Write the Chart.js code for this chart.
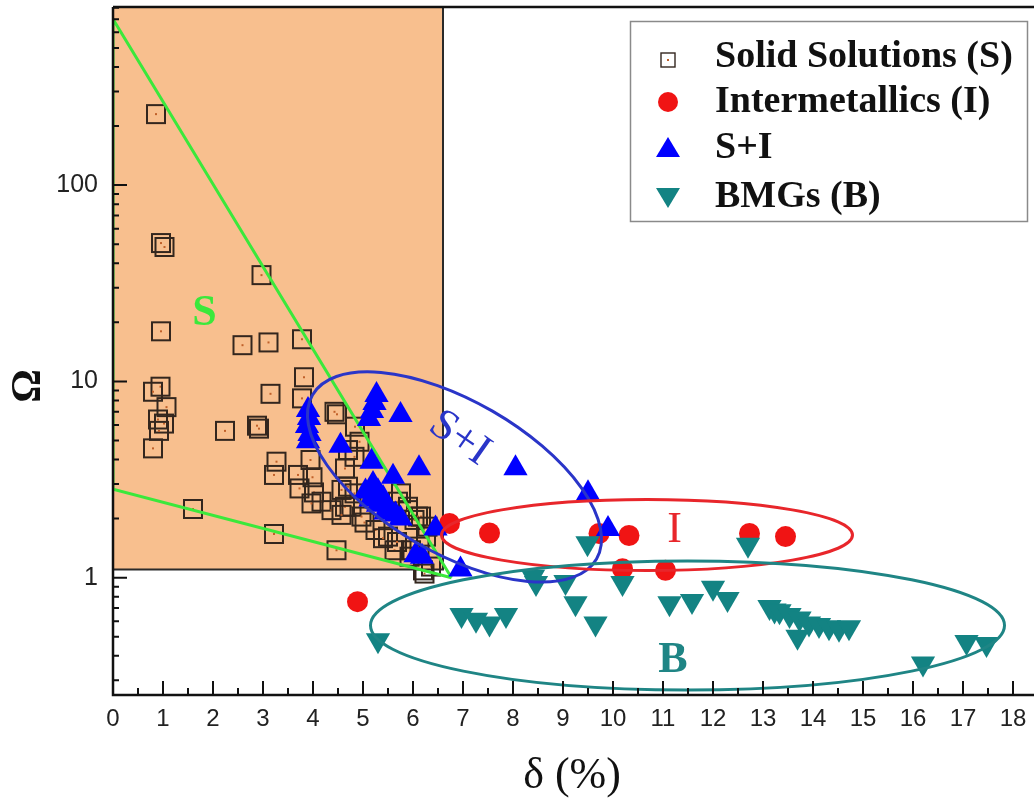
<!DOCTYPE html>
<html><head><meta charset="utf-8">
<script src="https://cdn.jsdelivr.net/npm/chart.js@4.4.0/dist/chart.umd.min.js"></script>
<style>html,body{margin:0;padding:0;background:#fff;}canvas{display:block;}</style>
</head><body>
<canvas id="c" width="1034" height="800"></canvas>
<script>
// ---------- data ----------
const xTickValues = [0,1,2,3,4,5,6,7,8,9,10,11,12,13,14,15,16,17,18];
const yTickValues = [1,10,100];
const yTickLabels = ['1','10','100'];
const seriesLabels = ['Solid Solutions (S)','Intermetallics (I)','S+I','BMGs (B)'];

const solidDelta = [0.86,0.96,1.03,2.97,0.96,2.59,3.11,3.78,3.82,3.78,0.95,0.80,1.07,0.90,1.02,0.92,0.80,2.24,2.88,2.92,3.15,4.43,4.48,4.84,4.93,4.83,4.70,3.95,3.27,3.22,3.70,3.99,3.73,4.02,4.64,4.57,4.83,4.70,4.64,4.77,4.17,3.97,4.37,4.57,4.97,5.03,5.25,5.40,5.50,5.63,5.68,5.76,5.70,5.90,5.90,6.10,6.16,6.03,6.29,6.26,6.13,5.93,5.96,6.36,6.23,6.20,1.60,3.22,4.47];
const solidOmega = [230,50.7,48.4,34.8,18.0,15.3,15.8,16.4,10.5,8.2,9.4,8.86,7.4,6.4,6.1,5.6,4.56,5.6,5.95,5.75,8.65,7.0,6.8,5.88,4.93,4.13,4.47,3.98,3.9,3.34,3.34,3.25,2.85,2.72,3.6,2.8,2.69,2.91,2.3,2.3,2.44,2.39,2.21,2.09,2.05,1.91,1.75,1.59,1.62,1.38,1.52,2.69,2.44,2.3,2.21,2.05,2.05,1.97,1.82,1.62,1.44,1.28,1.38,1.14,1.05,1.09,2.24,1.67,1.38];

const interDelta = [4.89,6.73,7.53,9.72,10.32,10.19,11.05,12.73,13.45];
const interOmega = [0.755,1.89,1.69,1.68,1.64,1.11,1.09,1.68,1.62];

const siDelta = [3.90,3.92,3.88,3.93,3.90,5.27,5.23,5.18,5.12,5.75,4.55,5.17,6.12,5.60,8.05,5.20,5.05,5.30,5.15,5.40,5.30,5.50,5.45,5.65,5.75,9.50,9.90,6.45,6.05,6.18,6.95];
const siOmega = [7.15,6.51,5.93,5.40,4.95,8.53,7.76,7.06,6.43,6.74,4.70,3.90,3.61,3.27,3.61,3.00,2.75,2.75,2.50,2.55,2.35,2.30,2.15,2.10,2.00,2.69,1.77,1.78,1.30,1.28,1.10];

const bmgDelta = [5.30,6.97,7.26,7.53,7.86,8.40,8.46,9.05,9.25,9.65,9.49,10.19,11.13,11.58,12.00,12.29,12.70,13.13,13.23,13.33,13.53,13.73,13.92,14.12,14.32,14.52,14.72,13.69,16.20,17.07,17.47];
const bmgOmega = [0.48,0.646,0.61,0.585,0.646,1.01,0.94,0.95,0.74,0.585,1.50,0.94,0.74,0.76,0.89,0.78,1.47,0.71,0.68,0.675,0.646,0.62,0.585,0.575,0.56,0.55,0.56,0.50,0.366,0.47,0.46];

// S-region boundary (green triangle) and shaded S window
const boundaryDelta = [6.77, 0, 0, 6.77];
const boundaryOmega = [1.0, 700, 2.82, 1.0];
const sWindowDelta = [0, 6.6];
const sWindowOmegaMin = 1.1;

// group ellipses: centre (delta, omega), semi-axes (delta units, decades), tilt (deg)
const ellipseCentreDelta = [6.83, 10.68, 11.49];
const ellipseCentreOmega = [3.26, 1.65, 0.571];
const ellipseRadiusDelta = [3.28, 4.11, 6.34];
const ellipseRadiusDecades = [0.387, 0.181, 0.329];
const ellipseTilt = [30, 0, 0];

// region labels
const regionText = ['S','S+I','I','B'];
const regionDelta = [1.83, 6.93, 11.23, 11.2];
const regionOmega = [22.2, 5.13, 1.75, 0.376];

// ---------- styles ----------
const ORANGE = 'rgb(248,191,142)';
const SQ_COL = '#33261e';
const RED = '#f01414';
const BLUE = '#0000ff';
const TEAL = '#138383';
const GREEN = '#3be83b';
const ellipseColors = ['#2a35c8','#e8262b','#1f8585'];
const regionColors = [GREEN,'#2a35c8','#e8262b','#1f8585'];
const regionFonts = ['bold 44px "Liberation Serif"','44px "Liberation Serif"','44px "Liberation Serif"','bold 44px "Liberation Serif"'];
const regionRot = [0, 35, 0, 0];

function makeSquare(size, lw) {
  const c = document.createElement('canvas');
  c.width = c.height = Math.ceil(size + lw + 2);
  const g = c.getContext('2d');
  const o = (c.width - size) / 2;
  g.strokeStyle = SQ_COL; g.lineWidth = lw;
  g.strokeRect(o, o, size, size);
  g.fillStyle = '#c0602a';
  g.fillRect(c.width/2 - 1, c.height/2 - 1, 2, 2);
  return c;
}
const squareImg = makeSquare(18, 2);
const squareLegendImg = makeSquare(14, 1.4);

const pts = (xs, ys) => xs.map((v, i) => ({x: v, y: ys[i]}));
const zeroPad = s => { s.paddingTop = 0; s.paddingBottom = 0; s.paddingLeft = 0; s.paddingRight = 0; };

const decor = {
  id: 'decor',
  beforeDatasetsDraw(chart) {
    const {ctx, scales: {x, y}, chartArea: a} = chart;
    const x0 = x.getPixelForValue(sWindowDelta[0]), x1 = x.getPixelForValue(sWindowDelta[1]);
    const y1 = y.getPixelForValue(sWindowOmegaMin);
    ctx.save();
    ctx.fillStyle = ORANGE;
    ctx.fillRect(x0, a.top, x1 - x0, y1 - a.top);
    ctx.strokeStyle = '#2a2a2a'; ctx.lineWidth = 2;
    ctx.beginPath(); ctx.moveTo(x1, a.top); ctx.lineTo(x1, y1); ctx.lineTo(x0, y1); ctx.stroke();
    ctx.restore();
  },
  afterDatasetsDraw(chart) {
    const {ctx, scales: {x, y}} = chart;
    ctx.save();
    for (let i = 0; i < ellipseCentreDelta.length; i++) {
      const cx = x.getPixelForValue(ellipseCentreDelta[i]);
      const cy = y.getPixelForValue(ellipseCentreOmega[i]);
      const rx = x.getPixelForValue(ellipseCentreDelta[i] + ellipseRadiusDelta[i]) - cx;
      const ry = cy - y.getPixelForValue(ellipseCentreOmega[i] * Math.pow(10, ellipseRadiusDecades[i]));
      ctx.beginPath();
      ctx.ellipse(cx, cy, rx, ry, ellipseTilt[i] * Math.PI / 180, 0, Math.PI * 2);
      ctx.strokeStyle = ellipseColors[i]; ctx.lineWidth = 3; ctx.stroke();
    }
    for (let i = 0; i < regionText.length; i++) {
      const px = x.getPixelForValue(regionDelta[i]), py = y.getPixelForValue(regionOmega[i]);
      ctx.save();
      ctx.translate(px, py); ctx.rotate(regionRot[i] * Math.PI / 180);
      ctx.font = regionFonts[i]; ctx.fillStyle = regionColors[i];
      ctx.textAlign = 'center'; ctx.textBaseline = 'middle';
      ctx.fillText(regionText[i], 0, 0);
      ctx.restore();
    }
    ctx.restore();
  },
  afterDraw(chart) {
    const {ctx, scales: {x, y}, chartArea: a} = chart;
    ctx.save();
    ctx.strokeStyle = '#111'; ctx.lineWidth = 2.5;
    ctx.beginPath();
    ctx.moveTo(a.left, a.top); ctx.lineTo(a.right, a.top);
    ctx.moveTo(a.left, a.top); ctx.lineTo(a.left, a.bottom); ctx.lineTo(a.right, a.bottom);
    ctx.stroke();
    ctx.lineWidth = 2;
    ctx.beginPath();
    for (let v = 0; v <= 18.4; v += 0.5) {
      const px = x.getPixelForValue(v);
      const len = Number.isInteger(v) ? 14 : 7;
      ctx.moveTo(px, a.bottom); ctx.lineTo(px, a.bottom - len);
    }
    for (let d = -1; d <= 2; d++) {
      for (let k = 1; k <= 9; k++) {
        const v = k * Math.pow(10, d);
        if (v < y.min || v > y.max) continue;
        const py = y.getPixelForValue(v);
        const len = k === 1 ? 14 : 6;
        ctx.moveTo(a.left, py); ctx.lineTo(a.left + len, py);
      }
    }
    ctx.stroke();
    ctx.fillStyle = '#111';
    ctx.textAlign = 'center'; ctx.textBaseline = 'middle';
    ctx.font = '44px "Liberation Serif"';
    ctx.fillText('\u03b4 (%)', 572, 776);
    ctx.save();
    ctx.translate(29, 386); ctx.rotate(-Math.PI / 2);
    ctx.font = 'bold 42px "Liberation Serif"';
    ctx.fillText('\u03a9', 0, 0);
    ctx.restore();
    ctx.fillStyle = '#fff';
    ctx.fillRect(630, 21, 398, 201);
    ctx.strokeStyle = '#8a8a8a'; ctx.lineWidth = 1.5;
    ctx.strokeRect(630.5, 21.5, 397, 200);
    const rows = [57, 102, 148, 197];
    const sx = 668;
    ctx.drawImage(squareLegendImg, sx - squareLegendImg.width / 2, rows[0] + 3 - squareLegendImg.height / 2);
    ctx.fillStyle = RED; ctx.beginPath(); ctx.arc(sx, rows[1], 10, 0, Math.PI * 2); ctx.fill();
    ctx.fillStyle = BLUE; ctx.beginPath();
    ctx.moveTo(sx, rows[2] - 11); ctx.lineTo(sx + 12, rows[2] + 9); ctx.lineTo(sx - 12, rows[2] + 9); ctx.closePath(); ctx.fill();
    ctx.fillStyle = TEAL; ctx.beginPath();
    ctx.moveTo(sx, rows[3] + 11); ctx.lineTo(sx + 12, rows[3] - 9); ctx.lineTo(sx - 12, rows[3] - 9); ctx.closePath(); ctx.fill();
    ctx.fillStyle = '#111';
    ctx.font = 'bold 38px "Liberation Serif"';
    ctx.textAlign = 'left'; ctx.textBaseline = 'middle';
    seriesLabels.forEach((t, i) => ctx.fillText(t, 715, rows[i]));
    ctx.restore();
  }
};

new Chart(document.getElementById('c'), {
  type: 'scatter',
  data: {
    datasets: [
      {label: seriesLabels[0], data: pts(solidDelta, solidOmega), pointStyle: squareImg, order: 5},
      {label: 'boundary', data: pts(boundaryDelta, boundaryOmega), showLine: true, borderColor: GREEN, borderWidth: 3, pointRadius: 0, order: 4},
      {label: seriesLabels[1], data: pts(interDelta, interOmega), pointStyle: 'circle', pointRadius: 10.5, backgroundColor: RED, borderColor: RED, borderWidth: 0, order: 3},
      {label: seriesLabels[3], data: pts(bmgDelta, bmgOmega), pointStyle: 'triangle', rotation: 180, pointRadius: 14, backgroundColor: TEAL, borderColor: TEAL, borderWidth: 0, order: 2},
      {label: seriesLabels[2], data: pts(siDelta, siOmega), pointStyle: 'triangle', pointRadius: 14, backgroundColor: BLUE, borderColor: BLUE, borderWidth: 0, order: 1}
    ]
  },
  options: {
    responsive: false, animation: false, events: [],
    layout: {padding: {top: 7, right: 0, bottom: 0, left: 0}, autoPadding: false},
    plugins: {legend: {display: false}, tooltip: {enabled: false}},
    scales: {
      x: {
        type: 'linear', min: 0, max: 18.42,
        afterFit: s => { s.height = 105; zeroPad(s); },
        afterBuildTicks: s => { s.ticks = xTickValues.map(v => ({value: v})); },
        grid: {display: false, drawTicks: false}, border: {display: false},
        ticks: {padding: 10, color: '#222', font: {family: '"Liberation Sans"', size: 24}, maxRotation: 0, autoSkip: false,
                callback: v => String(v)}
      },
      y: {
        type: 'logarithmic', min: 0.2526, max: 807.8,
        afterFit: s => { s.width = 113; zeroPad(s); },
        afterBuildTicks: s => { s.ticks = yTickValues.map(v => ({value: v})); },
        grid: {display: false, drawTicks: false}, border: {display: false},
        ticks: {padding: 15, color: '#222', font: {family: '"Liberation Sans"', size: 25}, autoSkip: false,
                callback: (v) => yTickLabels[yTickValues.indexOf(v)] ?? ''}
      }
    }
  },
  plugins: [decor]
});
</script>
</body></html>
